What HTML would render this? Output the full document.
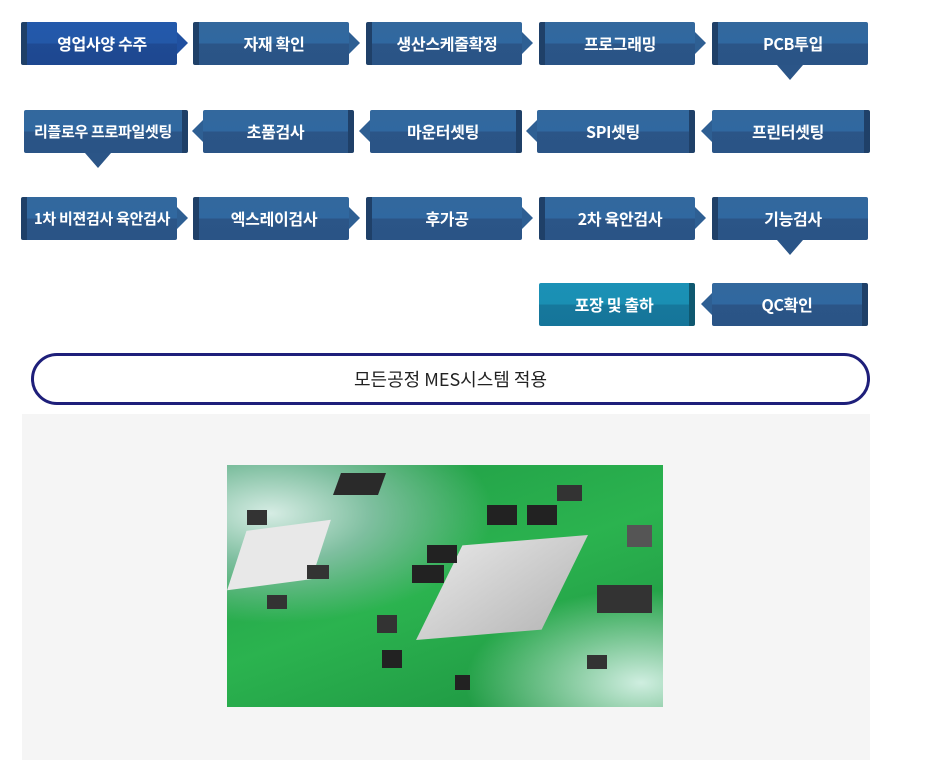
<!DOCTYPE html>
<html><head><meta charset="utf-8"><style>
body{margin:0;width:940px;height:780px;background:#fff;position:relative;overflow:hidden;font-family:"Noto Sans CJK KR","Liberation Sans",sans-serif}
.b{position:absolute;height:43px;border-radius:2px;background:linear-gradient(#33689d 0,#3068a0 50%,#2b5587 50%,#2a5486 100%);color:#fff;font-weight:bold;font-size:16px;line-height:43px;text-align:center;box-sizing:border-box;letter-spacing:-0.3px}
.b.l{border-left:6px solid #1f4068}
.b.r{border-right:6px solid #1f4068}
.b.first{background:linear-gradient(#2359ab 0,#2358a8 50%,#1f4a93 50%,#1d4790 100%)}
.b.teal{background:linear-gradient(#1b91b6 0,#1a8fb3 50%,#16789c 50%,#15759a 100%);border-right-color:#0f5870}
.ar{position:absolute;width:0;height:0;border-top:11px solid transparent;border-bottom:11px solid transparent}
.ar.R{border-left:11px solid #2e5f93}
.ar.L{border-right:11px solid #2e5f93}
.dn{position:absolute;width:0;height:0;border-left:13px solid transparent;border-right:13px solid transparent;border-top:15px solid #2b5587}
</style></head><body>
<div class="b l first" style="left:21px;top:22px;width:156px">영업사양 수주</div>
<div class="ar R" style="left:177px;top:32px;border-left-color:#2050a0"></div>
<div class="b l" style="left:193px;top:22px;width:156px">자재 확인</div>
<div class="ar R" style="left:349px;top:32px"></div>
<div class="b l" style="left:366px;top:22px;width:156px">생산스케줄확정</div>
<div class="ar R" style="left:522px;top:32px"></div>
<div class="b l" style="left:539px;top:22px;width:156px">프로그래밍</div>
<div class="ar R" style="left:695px;top:32px"></div>
<div class="b l" style="left:712px;top:22px;width:156px">PCB투입</div>
<div class="dn" style="left:777px;top:65px"></div>
<div class="b r" style="left:24px;top:110px;width:164px;font-size:15px">리플로우 프로파일셋팅</div>
<div class="dn" style="left:85px;top:153px"></div>
<div class="ar L" style="left:192px;top:120px"></div>
<div class="b r" style="left:203px;top:110px;width:151px">초품검사</div>
<div class="ar L" style="left:359px;top:120px"></div>
<div class="b r" style="left:370px;top:110px;width:152px">마운터셋팅</div>
<div class="ar L" style="left:526px;top:120px"></div>
<div class="b r" style="left:537px;top:110px;width:158px">SPI셋팅</div>
<div class="ar L" style="left:701px;top:120px"></div>
<div class="b r" style="left:712px;top:110px;width:158px">프린터셋팅</div>
<div class="b l" style="left:21px;top:197px;width:156px;font-size:15px">1차 비젼검사 육안검사</div>
<div class="ar R" style="left:177px;top:207px"></div>
<div class="b l" style="left:193px;top:197px;width:156px">엑스레이검사</div>
<div class="ar R" style="left:349px;top:207px"></div>
<div class="b l" style="left:366px;top:197px;width:156px">후가공</div>
<div class="ar R" style="left:522px;top:207px"></div>
<div class="b l" style="left:539px;top:197px;width:156px">2차 육안검사</div>
<div class="ar R" style="left:695px;top:207px"></div>
<div class="b l" style="left:712px;top:197px;width:156px">기능검사</div>
<div class="dn" style="left:777px;top:240px"></div>
<div class="b r teal" style="left:539px;top:283px;width:156px">포장 및 출하</div>
<div class="ar L" style="left:701px;top:293px"></div>
<div class="b r" style="left:712px;top:283px;width:156px">QC확인</div>
<div style="position:absolute;left:31px;top:353px;width:839px;height:52px;box-sizing:border-box;border:3px solid #1e1f7a;border-radius:26px;text-align:center;line-height:46px;font-size:18px;color:#222">모든공정 MES시스템 적용</div>
<div style="position:absolute;left:22px;top:414px;width:848px;height:346px;background:#f5f5f5"></div>
<div style="position:absolute;left:227px;top:465px;width:436px;height:242px;overflow:hidden;background:radial-gradient(ellipse at 10% 20%,#d6ece4 0,#7fbfa0 18%,transparent 40%),radial-gradient(ellipse at 95% 90%,#cfeee0 0,transparent 30%),linear-gradient(160deg,#1f9a45,#2bb34f 50%,#1c9040)">
 <div style="position:absolute;left:12px;top:60px;width:80px;height:60px;background:#e8e8e8;transform:skewX(-25deg) rotate(-8deg)"></div>
 <div style="position:absolute;left:215px;top:75px;width:120px;height:95px;background:linear-gradient(135deg,#e0e0e0,#bcbcbc);transform:skewX(-30deg) rotate(-5deg)"></div>
 <div style="position:absolute;left:110px;top:8px;width:45px;height:22px;background:#2a2a2a;transform:skewX(-20deg)"></div>
 <div style="position:absolute;left:260px;top:40px;width:30px;height:20px;background:#222"></div>
 <div style="position:absolute;left:300px;top:40px;width:30px;height:20px;background:#222"></div>
 <div style="position:absolute;left:200px;top:80px;width:30px;height:18px;background:#222"></div>
 <div style="position:absolute;left:185px;top:100px;width:32px;height:18px;background:#222"></div>
 <div style="position:absolute;left:370px;top:120px;width:55px;height:28px;background:#333"></div>
 <div style="position:absolute;left:400px;top:60px;width:25px;height:22px;background:#555"></div>
 <div style="position:absolute;left:150px;top:150px;width:20px;height:18px;background:#333"></div>
 <div style="position:absolute;left:155px;top:185px;width:20px;height:18px;background:#222"></div>
 <div style="position:absolute;left:228px;top:210px;width:15px;height:15px;background:#222"></div>
 <div style="position:absolute;left:20px;top:45px;width:20px;height:15px;background:#333"></div>
 <div style="position:absolute;left:40px;top:130px;width:20px;height:14px;background:#333"></div>
 <div style="position:absolute;left:80px;top:100px;width:22px;height:14px;background:#333"></div>
 <div style="position:absolute;left:330px;top:20px;width:25px;height:16px;background:#333"></div>
 <div style="position:absolute;left:360px;top:190px;width:20px;height:14px;background:#333"></div>
</div>
</body></html>
